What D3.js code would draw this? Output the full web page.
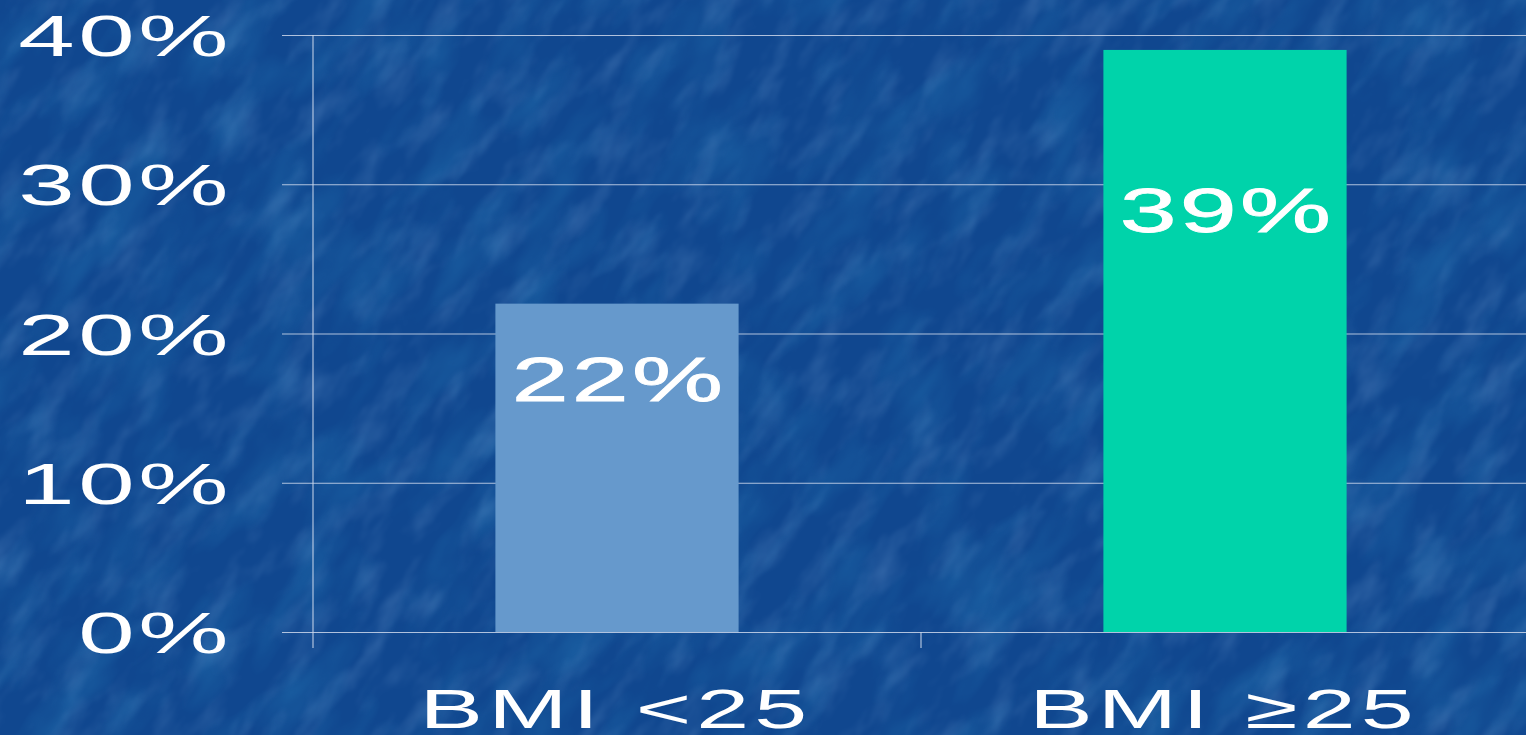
<!DOCTYPE html>
<html>
<head>
<meta charset="utf-8">
<script src="https://cdn.jsdelivr.net/npm/d3@7"></script>
<style>
  html, body { margin: 0; padding: 0; background: #114a96; overflow: hidden; }
  svg { display: block; }
  text { font-family: "Liberation Sans", Arial, sans-serif; fill: #ffffff; }
</style>
</head>
<body>
<svg id="chart" width="1526" height="735"></svg>
<script>
// Share of patients by BMI group
const categories = ["BMI <25", "BMI \u226525"];
const values = [22, 39];
const barColors = ["#6699cc", "#00d3aa"];
const yTicks = [0, 10, 20, 30, 40];
const yTickLabels = ["0%", "10%", "20%", "30%", "40%"];
const valueLabels = ["22%", "39%"];

const W = 1526, H = 735;
const margin = { left: 313, top: 35, bottom: 632, right: 1529 };

const svg = d3.select("#chart");

// --- mottled blue backdrop ---
const defs = svg.append("defs");
const f = defs.append("filter").attr("id", "grain")
  .attr("x", 0).attr("y", 0).attr("width", 1).attr("height", 1);
f.append("feTurbulence").attr("type", "fractalNoise")
  .attr("baseFrequency", "0.016 0.04").attr("numOctaves", 4).attr("seed", 7)
  .attr("result", "noise");
f.append("feColorMatrix").attr("in", "noise").attr("type", "matrix")
  .attr("values", "0 0 0 0 0.28  0 0 0 0 0.50  0 0 0 0 0.82  1.8 0 0 0 -0.85")
  .attr("result", "tint");
f.append("feGaussianBlur").attr("in", "tint").attr("stdDeviation", 1.5);

const f2 = defs.append("filter").attr("id", "shade")
  .attr("x", 0).attr("y", 0).attr("width", 1).attr("height", 1);
f2.append("feTurbulence").attr("type", "fractalNoise")
  .attr("baseFrequency", "0.01 0.025").attr("numOctaves", 3).attr("seed", 3)
  .attr("result", "n2");
f2.append("feColorMatrix").attr("in", "n2").attr("type", "matrix")
  .attr("values", "0 0 0 0 0.02  0 0 0 0 0.20  0 0 0 0 0.48  -1.8 0 0 0 1.05");

svg.append("rect").attr("width", W).attr("height", H).attr("fill", "#10478f");
const tex = svg.append("g").attr("transform", `translate(${W / 2},${H / 2}) rotate(-55)`);
tex.append("rect").attr("x", -1100).attr("y", -1100).attr("width", 2200).attr("height", 2200)
  .attr("filter", "url(#shade)").attr("opacity", 0.45);
tex.append("rect").attr("x", -1100).attr("y", -1100).attr("width", 2200).attr("height", 2200)
  .attr("filter", "url(#grain)").attr("opacity", 0.28);

// --- scales ---
const x = d3.scaleBand().domain(categories)
  .range([margin.left, margin.right])
  .paddingInner(0.6).paddingOuter(0.3);
const y = d3.scaleLinear().domain([0, 40]).range([margin.bottom, margin.top]);

const lineColor = "rgba(205,215,235,0.85)";

// horizontal gridlines with outward ticks
const yAxis = d3.axisLeft(y).tickValues(yTicks)
  .tickSize(-(W - margin.left)).tickFormat("");
const gy = svg.append("g").attr("transform", `translate(${margin.left},0)`).call(yAxis);
gy.select(".domain").remove();
gy.selectAll(".tick line")
  .attr("x1", -31).attr("stroke", lineColor).attr("stroke-width", 1.2);

// vertical axis line
svg.append("line")
  .attr("x1", margin.left).attr("x2", margin.left)
  .attr("y1", y(40)).attr("y2", margin.bottom + 16)
  .attr("stroke", lineColor).attr("stroke-width", 1.2);

// category separator ticks below the baseline
const bounds = d3.range(1, categories.length).map(i => margin.left + i * x.step());
svg.append("g").selectAll("line").data(bounds).join("line")
  .attr("x1", d => d).attr("x2", d => d)
  .attr("y1", margin.bottom).attr("y2", margin.bottom + 16)
  .attr("stroke", lineColor).attr("stroke-width", 1.2);

// y tick labels (wide lettering)
svg.append("g").selectAll("g").data(yTicks).join("g")
  .attr("transform", d => `translate(${232},${y(d) + 21}) scale(1.75,1)`)
  .append("text")
  .attr("text-anchor", "end")
  .attr("font-size", 58)
  .attr("letter-spacing", 2)
  .text((d, i) => yTickLabels[i]);

// bars
svg.append("g").selectAll("rect").data(values).join("rect")
  .attr("x", (d, i) => x(categories[i]))
  .attr("width", x.bandwidth())
  .attr("y", d => y(d))
  .attr("height", d => y(0) - y(d))
  .attr("fill", (d, i) => barColors[i]);

// value labels inside bars
svg.append("g").selectAll("g").data(values).join("g")
  .attr("transform", (d, i) =>
    `translate(${x(categories[i]) + x.bandwidth() / 2 + 2},${y(d * 2 / 3) - 35 + 23}) scale(1.65,1)`)
  .append("text")
  .attr("text-anchor", "middle")
  .attr("font-size", 62)
  .attr("letter-spacing", 2)
  .attr("stroke", "#fff").attr("stroke-width", 0.8)
  .text((d, i) => valueLabels[i]);

// category labels
svg.append("g").selectAll("g").data(categories).join("g")
  .attr("transform", d => `translate(${x(d) + x.bandwidth() / 2 - 1},${728}) scale(1.7,1)`)
  .append("text")
  .attr("text-anchor", "middle")
  .attr("font-size", 56)
  .attr("letter-spacing", 3)
  .text(d => d);
</script>
</body>
</html>
